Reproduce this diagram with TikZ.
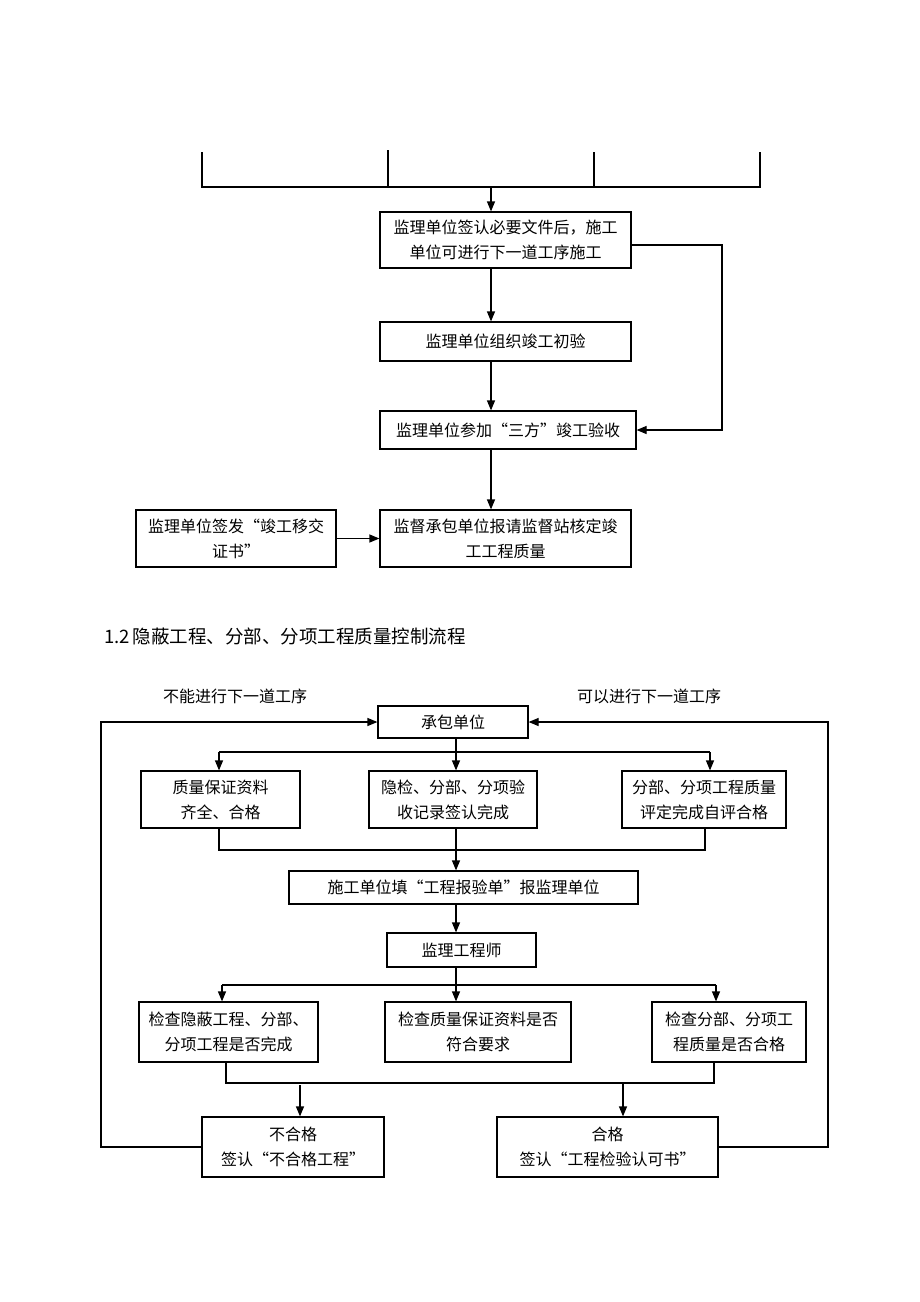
\documentclass[tikz,border=0pt]{standalone}
\usepackage{fontspec}
\newfontfamily\cjk{Noto Sans CJK SC}
\usetikzlibrary{arrows.meta}
\newcommand\mybox[6]{\node[box,minimum width={(#4-#2)*1pt},minimum height={(#5-#3)*1pt}] (#1) at ({(#2+#4)/2},{(#3+#5)/2}) {#6};}
\begin{document}
\begin{tikzpicture}[x=1pt,y=-1pt,
  box/.style={draw, line width=1.2pt, inner sep=0pt, align=center, font=\cjk\fontsize{16}{25}\selectfont},
  lbl/.style={inner sep=0pt, font=\cjk\fontsize{16}{25}\selectfont},
  ln/.style={line width=1.2pt},
  arr/.style={line width=1.2pt,-{Triangle[length=10pt,width=8pt]}}]
\useasboundingbox[fill=white] (0,0) rectangle (920,1302);

% ---------- top part ----------
\coordinate (t1) at (202,152);
\coordinate (t2) at (388,150);
\coordinate (t3) at (594,152);
\coordinate (t4) at (760,152);
\coordinate (tb) at (0,187);
\coordinate (tj) at (491,187);
\coordinate (rx) at (722,0);
\coordinate (ry) at (0,245);
\draw[ln] (t1) -- (t1 |- tb) -- (t4 |- tb) -- (t4);
\draw[ln] (t2) -- (t2 |- tb);
\draw[ln] (t3) -- (t3 |- tb);

\mybox{n1}{380}{212}{631}{268}{监理单位签认必要文件后，施工\\单位可进行下一道工序施工}
\mybox{n2}{380}{322}{631}{361}{监理单位组织竣工初验}
\mybox{n3}{380}{411}{636}{449}{监理单位参加“三方”竣工验收}
\mybox{n4}{380}{510}{631}{567}{监督承包单位报请监督站核定竣\\工工程质量}
\mybox{n5}{136}{510}{336}{567}{监理单位签发“竣工移交\\证书”}

\draw[arr] (tj) -- (tj |- n1.north);
\draw[arr] (n1.south -| tj) -- (n2.north -| tj);
\draw[arr] (n2.south -| tj) -- (n3.north -| tj);
\draw[arr] (n3.south -| tj) -- (n4.north -| tj);
\draw[arr] (n1.east |- ry) -- (rx |- ry) -- (n3.east -| rx) -- (n3.east);
\draw[arr] (n5.east) -- (n5.east -| n4.west);

% ---------- heading ----------
\node[anchor=west, inner sep=0pt, font=\cjk\fontsize{18.5}{22}\selectfont] (head) at (104,636) {1.2\,隐蔽工程、分部、分项工程质量控制流程};

% ---------- lower part ----------
\node[lbl] (L1) at (235,696) {不能进行下一道工序};
\node[lbl] (L2) at (649,696) {可以进行下一道工序};

\mybox{A}{378}{706}{528}{738}{承包单位}
\mybox{B1}{141}{771}{300}{828}{质量保证资料\\齐全、合格}
\mybox{B2}{369}{771}{537}{828}{隐检、分部、分项验\\收记录签认完成}
\mybox{B3}{622}{771}{786}{828}{分部、分项工程质量\\评定完成自评合格}
\mybox{C}{289}{871}{638}{904}{施工单位填“工程报验单”报监理单位}
\mybox{D}{387}{933}{536}{967}{监理工程师}
\mybox{E1}{139}{1002}{318}{1062}{检查隐蔽工程、分部、\\分项工程是否完成}
\mybox{E2}{385}{1002}{571}{1062}{检查质量保证资料是否\\符合要求}
\mybox{E3}{652}{1002}{806}{1062}{检查分部、分项工\\程质量是否合格}
\mybox{F1}{202}{1117}{384}{1177}{不合格\\签认“不合格工程”}
\mybox{F2}{497}{1117}{718}{1177}{合格\\签认“工程检验认可书”}

% bus coordinates
\coordinate (cx) at (456,0);
\coordinate (b1) at (456,752);
\coordinate (b1l) at (219,752);
\coordinate (b1r) at (710,752);
\coordinate (b2l) at (219,850);
\coordinate (b2m) at (456,850);
\coordinate (b2r) at (705,850);
\coordinate (b3l) at (222,985);
\coordinate (b3m) at (456,985);
\coordinate (b3r) at (716,985);
\coordinate (b4l) at (226,1083);
\coordinate (b4r) at (714,1083);
\coordinate (f1x) at (300,1085);
\coordinate (f2x) at (623,1083);
\coordinate (lx) at (101,0);
\coordinate (rx2) at (828,0);

% A -> B
\draw[ln] (A.south -| b1) -- (b1);
\draw[ln] (b1l) -- (b1r);
\draw[arr] (b1l) -- (b1l |- B1.north);
\draw[arr] (b1) -- (b1 |- B2.north);
\draw[arr] (b1r) -- (b1r |- B3.north);

% B -> C
\draw[ln] (B1.south -| b2l) -- (b2l) -- (b2r) -- (B3.south -| b2r);
\draw[ln] (B2.south -| b2m) -- (b2m);
\draw[arr] (b2m) -- (b2m |- C.north);

% C -> D
\draw[arr] (C.south -| cx) -- (D.north -| cx);

% D -> E
\draw[ln] (D.south -| b3m) -- (b3m);
\draw[ln] (b3l) -- (b3r);
\draw[arr] (b3l) -- (b3l |- E1.north);
\draw[arr] (b3m) -- (b3m |- E2.north);
\draw[arr] (b3r) -- (b3r |- E3.north);

% E -> F
\draw[ln] (E1.south -| b4l) -- (b4l) -- (b4r) -- (E3.south -| b4r);
\draw[arr] (f1x) -- (f1x |- F1.north);
\draw[arr] (f2x) -- (f2x |- F2.north);

% loops back to A
\draw[arr] (F1.west) -- (F1.west -| lx) -- (A.west -| lx) -- (A.west);
\draw[arr] (F2.east) -- (F2.east -| rx2) -- (A.east -| rx2) -- (A.east);
\end{tikzpicture}
\end{document}
